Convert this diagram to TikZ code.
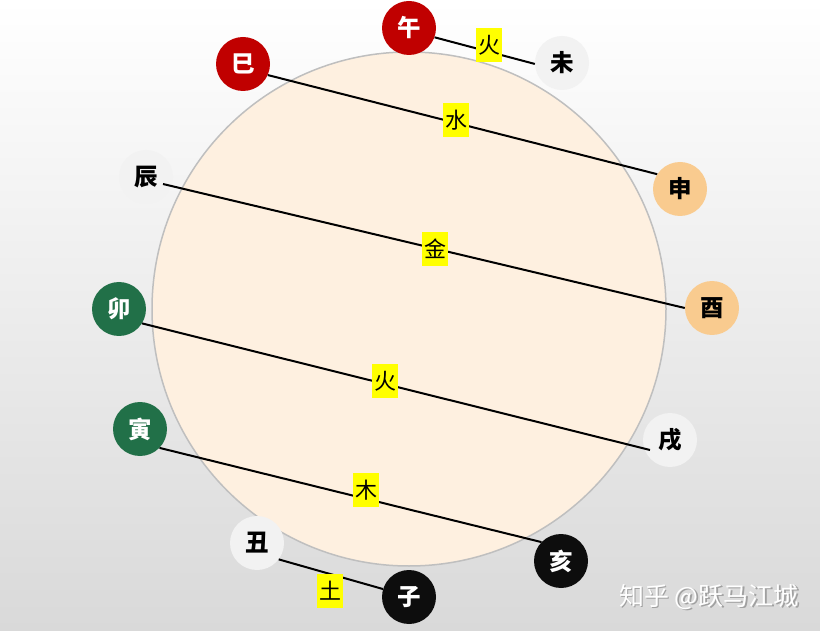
\documentclass[tikz,border=0pt]{standalone}
\usepackage{fontspec}
\newfontfamily\cjk{Noto Sans CJK SC}
\usetikzlibrary{calc}
\definecolor{bgbot}{RGB}{217,217,217}
\definecolor{disk}{RGB}{254,240,224}
\definecolor{diskline}{RGB}{191,191,191}
\definecolor{cred}{RGB}{192,0,0}
\definecolor{cgreen}{RGB}{33,112,72}
\definecolor{cblack}{RGB}{13,13,13}
\definecolor{cgray}{RGB}{242,242,242}
\definecolor{corange}{RGB}{249,203,143}
\definecolor{lab}{RGB}{255,255,0}
\definecolor{wmshadow}{RGB}{160,160,160}
\begin{document}
\begin{tikzpicture}[x=1pt,y=-1pt,
  branch/.style={circle,minimum size=54pt,inner sep=0pt,
    font=\cjk\bfseries\fontsize{23.5}{25}\selectfont},
  redb/.style={branch,fill=cred,text=white},
  greenb/.style={branch,fill=cgreen,text=white},
  blackb/.style={branch,fill=cblack,text=white},
  grayb/.style={branch,fill=cgray,text=black},
  orangeb/.style={branch,fill=corange,text=black},
  elem/.style={fill=lab,inner sep=0pt,minimum width=26pt,minimum height=34pt,
    font=\cjk\fontsize{22}{24}\selectfont},
  link/.style={draw=black,line width=2pt},
  wmfont/.style={inner sep=0pt,font=\cjk\fontsize{25}{28}\selectfont}]
\shade[top color=white,bottom color=bgbot] (0,0) rectangle (820,631);
\useasboundingbox (0,0) rectangle (820,631);
\node[circle,draw=diskline,line width=1.5pt,fill=disk,minimum size=514pt,inner sep=0pt] (disc) at (409,309) {};
% branches
\node[redb] (wu) at (409,28) {午};
\node[grayb] (wei) at (562,63) {未};
\node[redb] (si) at (243,64) {巳};
\node[orangeb] (shen) at (680,189) {申};
\node[grayb] (chen) at (146,177) {辰};
\node[orangeb] (you) at (712,308) {酉};
\node[greenb] (mao) at (119,309) {卯};
\node[grayb] (xu) at (670,440) {戌};
\node[greenb] (yin) at (140,429) {寅};
\node[blackb] (hai) at (561,561) {亥};
\node[grayb] (chou) at (257,543) {丑};
\node[blackb] (zi) at (409,597) {子};
% links
\draw[link] (wu.-20) -- (wei.182);
\draw[link] (si.-24) -- (shen.147);
\draw[link] ($(chen)+(17,7)$) -- (you.180);
\draw[link] (mao.-32) -- ($(xu)+(-20,10)$);
\draw[link] (yin.-44) -- (hai.136);
\draw[link] (chou.-37) -- (zi.163);
% element labels
\node[elem] (e1) at (489,45) {火};
\node[elem] (e2) at (456,120) {水};
\node[elem] (e3) at (435,249) {金};
\node[elem] (e4) at (385,381) {火};
\node[elem] (e5) at (366,490) {木};
\node[elem] (e6) at (330,591) {土};
% watermark
\node[wmfont,text=wmshadow] (wms) at (710.5,598.5) {知乎 @跃马江城};
\node[wmfont,text=white] (wm) at (709,597) {知乎 @跃马江城};
\end{tikzpicture}
\end{document}
